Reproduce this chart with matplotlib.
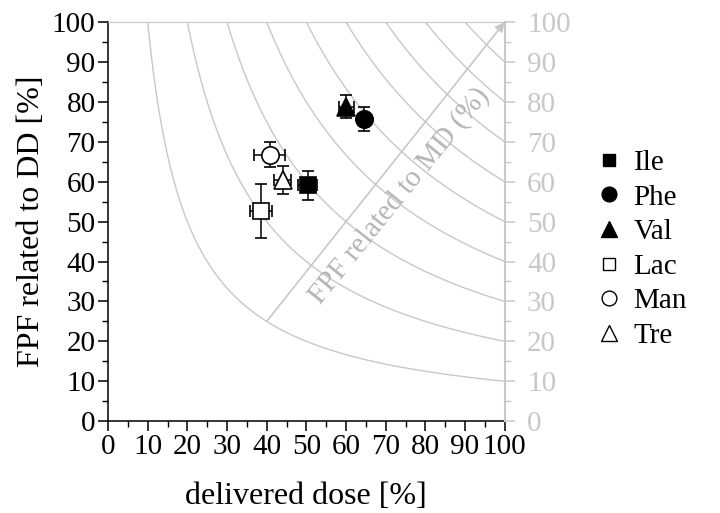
import numpy as np
import matplotlib
matplotlib.use("Agg")
import matplotlib.pyplot as plt
from matplotlib.lines import Line2D

plt.rcParams['font.family'] = ['Liberation Serif', 'DejaVu Serif']
plt.rcParams['mathtext.fontset'] = 'stix'

# data
names = ["Ile", "Phe", "Val", "Lac", "Man", "Tre"]
delivered_dose = [50.3, 64.5, 60.1, 38.5, 40.8, 44.0]
dose_err = [2.3, 1.5, 1.8, 2.8, 3.9, 2.2]
fpf_dd = [59.1, 75.7, 78.8, 52.6, 66.8, 60.5]
fpf_err = [3.6, 2.9, 2.9, 6.7, 3.2, 3.5]
md_levels = [10, 20, 30, 40, 50, 60, 70, 80, 90]
ticks = [0, 10, 20, 30, 40, 50, 60, 70, 80, 90, 100]

markers = ['s', 'o', '^', 's', 'o', '^']
filled = [True, True, True, False, False, False]
msizes = [11, 12.5, 13, 11, 12.5, 13]

gray = '#c8c8c8'
fs = 21

fig = plt.figure(figsize=(7.2, 5.13), dpi=100)
ax = fig.add_axes([0.150, 0.179, 0.551, 0.778])
ax.set_xlim(0, 100)
ax.set_ylim(0, 100)

# iso-lines of FPF related to MD = dose * FPF_DD / 100
for c in md_levels:
    xs = np.linspace(c, 100, 300)
    ax.plot(xs, 100.0 * c / xs, color=gray, lw=1.0, zorder=1)

ax.annotate('', xy=(100, 100), xytext=(40, 25),
            arrowprops=dict(arrowstyle='-|>', color=gray, lw=1.2,
                            mutation_scale=14, shrinkA=0, shrinkB=0),
            zorder=1)
ax.text(73.5, 56.5, 'FPF related to MD (%)', color='#b4b4b4', fontsize=fs,
        rotation=51.0, rotation_mode='anchor', ha='center', va='center',
        transform_rotates_text=False, zorder=1)

handles = []
for i in range(len(names)):
    fc = 'black' if filled[i] else 'white'
    ax.errorbar(delivered_dose[i], fpf_dd[i], xerr=dose_err[i], yerr=fpf_err[i],
                fmt=markers[i], ms=msizes[i], mfc=fc, mec='black', mew=1.2,
                ecolor='black', elinewidth=1.1, capsize=4.5, capthick=1.1,
                zorder=3)
    handles.append(Line2D([], [], ls='none', marker=markers[i],
                          ms=msizes[i] * 0.85, mfc=fc, mec='black', mew=1.0,
                          label=names[i]))

ax.set_xticks(ticks)
ax.set_yticks(ticks)
ax.set_xticks(np.arange(5, 100, 10), minor=True)
ax.set_yticks(np.arange(5, 100, 10), minor=True)
ax.tick_params(which='major', direction='out', length=7, width=1.1,
               labelsize=fs, pad=2)
ax.tick_params(which='minor', direction='out', length=4, width=1.0)
ax.spines['top'].set_color(gray)
ax.spines['right'].set_visible(False)
ax.spines['left'].set_linewidth(1.1)
ax.spines['bottom'].set_linewidth(1.1)

ax2 = ax.twinx()
ax2.set_ylim(0, 100)
ax2.set_yticks(ticks)
ax2.set_yticks(np.arange(5, 100, 10), minor=True)
ax2.tick_params(which='major', direction='out', length=7, width=1.1,
                labelsize=fs, colors=gray, pad=9)
ax2.tick_params(which='minor', direction='out', length=4, width=1.0,
                colors=gray)
for s in ['top', 'left', 'bottom']:
    ax2.spines[s].set_visible(False)
ax2.spines['right'].set_color(gray)
ax2.spines['right'].set_linewidth(1.5)

ax.set_xlabel('delivered dose [%]', fontsize=fs + 2, labelpad=16)
ax.set_ylabel('FPF related to DD [%]', fontsize=fs + 2, labelpad=4)

fig.legend(handles=handles, loc='center left', bbox_to_anchor=(0.805, 0.514),
           frameon=False, fontsize=fs, handlelength=1.0, handletextpad=0.35,
           labelspacing=0.28, borderpad=0)

fig.savefig('out.png', dpi=100)
